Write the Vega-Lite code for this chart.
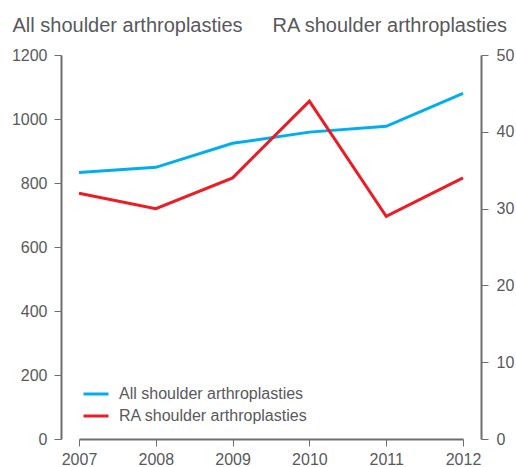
{
  "$schema": "https://vega.github.io/schema/vega-lite/v6.json",
  "autosize": {"type": "none"},
  "padding": {"left": 79, "top": 55, "right": 53, "bottom": 28},
  "width": 384,
  "height": 384,
  "config": {
    "view": {"stroke": null},
    "font": "Liberation Sans",
    "axis": {
      "grid": false,
      "domainColor": "#6d6e71",
      "domainWidth": 2,
      "tickColor": "#6d6e71",
      "tickWidth": 1,
      "tickSize": 7,
      "labelColor": "#58595b",
      "labelFont": "Liberation Sans",
      "labelFontSize": 16,
      "titleColor": "#58595b",
      "titleFont": "Liberation Sans",
      "titleFontSize": 20,
      "titleFontWeight": "normal"
    },
    "legend": {
      "labelColor": "#58595b",
      "labelFont": "Liberation Sans",
      "labelFontSize": 16,
      "labelLimit": 0
    }
  },
  "data": {
    "values": [
      {"year": 2007, "series": "All shoulder arthroplasties", "value": 833},
      {"year": 2008, "series": "All shoulder arthroplasties", "value": 849},
      {"year": 2009, "series": "All shoulder arthroplasties", "value": 924},
      {"year": 2010, "series": "All shoulder arthroplasties", "value": 959},
      {"year": 2011, "series": "All shoulder arthroplasties", "value": 977},
      {"year": 2012, "series": "All shoulder arthroplasties", "value": 1080},
      {"year": 2007, "series": "RA shoulder arthroplasties", "value": 32},
      {"year": 2008, "series": "RA shoulder arthroplasties", "value": 30},
      {"year": 2009, "series": "RA shoulder arthroplasties", "value": 34},
      {"year": 2010, "series": "RA shoulder arthroplasties", "value": 44},
      {"year": 2011, "series": "RA shoulder arthroplasties", "value": 29},
      {"year": 2012, "series": "RA shoulder arthroplasties", "value": 34}
    ]
  },
  "encoding": {
    "x": {
      "field": "year",
      "type": "quantitative",
      "scale": {"domain": [2007, 2012], "nice": false, "zero": false},
      "axis": {
        "title": null,
        "values": [2007, 2008, 2009, 2010, 2011, 2012],
        "format": "d",
        "labelPadding": 5,
        "labelFlush": false,
        "labelOverlap": false
      }
    },
    "color": {
      "field": "series",
      "type": "nominal",
      "scale": {
        "domain": ["All shoulder arthroplasties", "RA shoulder arthroplasties"],
        "range": ["#00aeef", "#ed1c24"]
      }
    }
  },
  "layer": [
    {
      "transform": [{"filter": "datum.series === 'All shoulder arthroplasties'"}],
      "mark": {"type": "line", "strokeWidth": 3},
      "encoding": {
        "y": {
          "field": "value",
          "type": "quantitative",
          "scale": {"domain": [0, 1200], "nice": false},
          "axis": {
            "orient": "left",
            "values": [0, 200, 400, 600, 800, 1000, 1200],
            "format": "d",
            "offset": 18,
            "labelPadding": 7,
            "title": "All shoulder arthroplasties",
            "titleAngle": 0,
            "titleAlign": "left",
            "titleBaseline": "alphabetic",
            "titleX": -49,
            "titleY": -24
          }
        },
        "color": {
          "field": "series",
          "type": "nominal",
          "legend": {
            "title": null,
            "orient": "none",
            "legendX": 3,
            "legendY": 325,
            "symbolType": "stroke",
            "symbolSize": 625,
            "symbolStrokeWidth": 3,
            "labelOffset": 9,
            "rowPadding": -2,
            "padding": 0
          }
        }
      }
    },
    {
      "transform": [{"filter": "datum.series === 'RA shoulder arthroplasties'"}],
      "mark": {"type": "line", "strokeWidth": 3},
      "encoding": {
        "y": {
          "field": "value",
          "type": "quantitative",
          "scale": {"domain": [0, 50], "nice": false},
          "axis": {
            "orient": "right",
            "values": [0, 10, 20, 30, 40, 50],
            "offset": 18,
            "labelPadding": 8,
            "title": "RA shoulder arthroplasties",
            "titleAngle": 0,
            "titleAlign": "left",
            "titleBaseline": "alphabetic",
            "titleX": -209,
            "titleY": -24
          }
        }
      }
    }
  ],
  "resolve": {"scale": {"y": "independent"}}
}
